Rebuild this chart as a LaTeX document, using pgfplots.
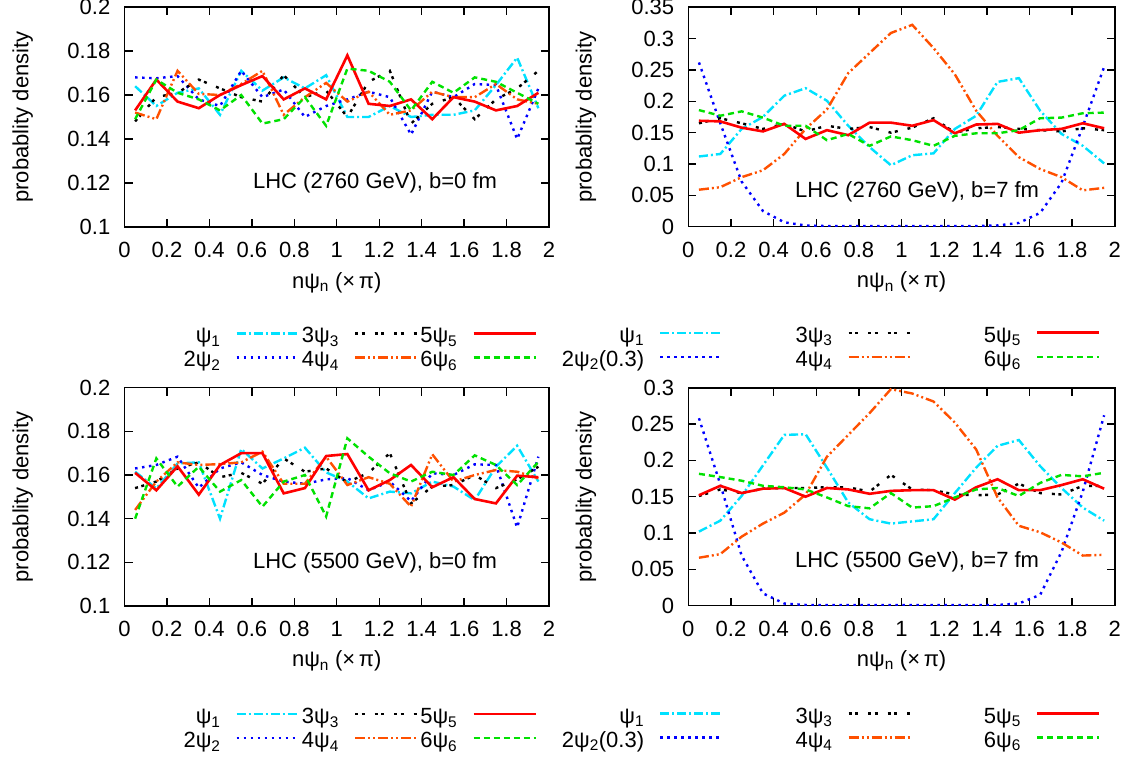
\documentclass[border=0pt]{standalone}
\usepackage{fontspec}
\setmainfont{Liberation Sans}
\usepackage{pgfplots}
\usepackage{pgfplotstable}
\pgfplotsset{compat=1.18}
\newcommand{\fs}{\fontsize{22}{26}\selectfont}
\definecolor{cy}{RGB}{0,225,255}
\definecolor{bl}{RGB}{0,0,255}
\definecolor{org}{RGB}{255,80,0}
\definecolor{rd}{RGB}{255,0,0}
\definecolor{gr}{RGB}{0,225,0}

\pgfplotstableread{
x p1 p2 p3 p4 p5 p6
0.05 0.164 0.168 0.148 0.152 0.153 0.149
0.15 0.155 0.1676 0.159 0.149 0.167 0.167
0.25 0.161 0.1686 0.161 0.171 0.157 0.161
0.35 0.163 0.158 0.167 0.1605 0.154 0.158
0.45 0.151 0.155 0.163 0.160 0.160 0.153
0.55 0.171 0.171 0.159 0.165 0.1645 0.160
0.65 0.162 0.159 0.157 0.171 0.1686 0.147
0.75 0.168 0.1625 0.169 0.151 0.158 0.149
0.85 0.163 0.150 0.159 0.159 0.163 0.159
0.95 0.169 0.155 0.162 0.1655 0.158 0.146
1.05 0.150 0.158 0.150 0.157 0.178 0.172
1.15 0.150 0.1615 0.166 0.1615 0.156 0.171
1.25 0.155 0.159 0.171 0.151 0.155 0.166
1.35 0.150 0.142 0.147 0.153 0.158 0.153
1.45 0.151 0.1615 0.156 0.1615 0.149 0.166
1.55 0.151 0.159 0.159 0.159 0.159 0.161
1.65 0.153 0.165 0.149 0.159 0.157 0.168
1.75 0.1645 0.1645 0.158 0.165 0.153 0.166
1.85 0.177 0.140 0.163 0.158 0.155 0.161
1.95 0.154 0.163 0.171 0.156 0.161 0.156
}\tl

\pgfplotstableread{
x p1 p2 p3 p4 p5 p6
0.05 0.112 0.262 0.165 0.059 0.169 0.186
0.15 0.116 0.165 0.173 0.063 0.168 0.177
0.25 0.156 0.072 0.165 0.079 0.158 0.184
0.35 0.175 0.025 0.156 0.090 0.152 0.174
0.45 0.209 0.007 0.164 0.116 0.164 0.161
0.55 0.221 0.002 0.152 0.156 0.140 0.161
0.65 0.201 0.001 0.161 0.187 0.154 0.138
0.75 0.161 0.001 0.156 0.245 0.146 0.148
0.85 0.127 0.001 0.159 0.277 0.166 0.129
0.95 0.098 0.001 0.150 0.309 0.166 0.144
1.05 0.114 0.001 0.158 0.322 0.161 0.138
1.15 0.117 0.001 0.173 0.285 0.170 0.129
1.25 0.156 0.001 0.150 0.243 0.149 0.145
1.35 0.177 0.001 0.157 0.185 0.163 0.149
1.45 0.231 0.002 0.159 0.145 0.164 0.149
1.55 0.237 0.006 0.156 0.111 0.150 0.154
1.65 0.185 0.022 0.154 0.092 0.154 0.173
1.75 0.148 0.070 0.152 0.079 0.156 0.174
1.85 0.129 0.160 0.157 0.058 0.165 0.181
1.95 0.101 0.255 0.154 0.062 0.157 0.182
}\tr

\pgfplotstableread{
x p1 p2 p3 p4 p5 p6
0.05 0.1615 0.163 0.154 0.144 0.161 0.140
0.15 0.1539 0.1646 0.157 0.157 0.153 0.1676
0.25 0.1653 0.1684 0.163 0.1658 0.164 0.1547
0.35 0.1658 0.1542 0.1658 0.1646 0.151 0.1638
0.45 0.140 0.163 0.159 0.165 0.1646 0.1524
0.55 0.1719 0.1658 0.161 0.1658 0.170 0.1577
0.65 0.163 0.160 0.156 0.1707 0.170 0.1455
0.75 0.1676 0.157 0.1676 0.156 0.1516 0.157
0.85 0.1725 0.156 0.1615 0.156 0.154 0.160
0.95 0.1612 0.158 0.163 0.1684 0.1687 0.141
1.05 0.157 0.1586 0.1567 0.1554 0.1696 0.1768
1.15 0.1493 0.153 0.161 0.159 0.153 0.1684
1.25 0.1524 0.157 0.170 0.156 0.1577 0.1608
1.35 0.1516 0.148 0.147 0.1455 0.1646 0.157
1.45 0.157 0.1608 0.1547 0.1695 0.1544 0.1615
1.55 0.1547 0.160 0.1554 0.157 0.159 0.160
1.65 0.1485 0.1649 0.160 0.160 0.149 0.169
1.75 0.1638 0.1646 0.154 0.1623 0.147 0.1646
1.85 0.1734 0.136 0.158 0.1615 0.1597 0.1554
1.95 0.157 0.1684 0.1638 0.1585 0.159 0.166
}\bl

\pgfplotstableread{
x p1 p2 p3 p4 p5 p6
0.05 0.102 0.258 0.151 0.066 0.152 0.1815
0.15 0.117 0.167 0.160 0.071 0.165 0.177
0.25 0.151 0.069 0.155 0.095 0.155 0.172
0.35 0.193 0.017 0.161 0.113 0.161 0.165
0.45 0.235 0.003 0.162 0.128 0.162 0.163
0.55 0.236 0.001 0.162 0.153 0.150 0.160
0.65 0.190 0.001 0.163 0.205 0.162 0.149
0.75 0.142 0.001 0.163 0.235 0.160 0.137
0.85 0.119 0.001 0.157 0.265 0.154 0.134
0.95 0.113 0.001 0.180 0.298 0.158 0.155
1.05 0.116 0.001 0.160 0.292 0.159 0.135
1.15 0.119 0.001 0.159 0.281 0.159 0.137
1.25 0.155 0.001 0.153 0.252 0.146 0.149
1.35 0.190 0.001 0.152 0.215 0.163 0.160
1.45 0.220 0.001 0.153 0.149 0.174 0.162
1.55 0.228 0.003 0.168 0.110 0.159 0.151
1.65 0.192 0.015 0.155 0.101 0.159 0.169
1.75 0.162 0.074 0.153 0.087 0.166 0.180
1.85 0.135 0.157 0.165 0.069 0.174 0.178
1.95 0.117 0.262 0.165 0.070 0.161 0.183
}\br

\pgfplotsset{
  s1/.style={color=cy, line width=2.4pt, dash pattern=on 9pt off 3pt on 2pt off 3pt},
  s2/.style={color=bl, line width=2.4pt, dash pattern=on 2.5pt off 4.5pt},
  s3/.style={color=black, line width=2.4pt, dash pattern=on 3pt off 3.5pt on 3pt off 10pt},
  s4/.style={color=org, line width=2.4pt, dash pattern=on 10pt off 3pt on 2pt off 3pt on 2pt off 3pt},
  s5/.style={color=rd, line width=2.6pt},
  s6/.style={color=gr, line width=2.4pt, dash pattern=on 6pt off 4pt},
  panel/.style={
    scale only axis, anchor=south west,
    xmin=0, xmax=2,
    xtick={0,0.2,0.4,0.6,0.8,1,1.2,1.4,1.6,1.8,2},
    tick align=inside, major tick length=8pt,
    axis line style={line width=1.6pt},
    every tick/.style={black, line width=1.4pt},
    scaled ticks=false,
    tick label style={font=\fs},
    label style={font=\fs},
    /pgf/number format/assume math mode=true,
    xticklabel style={inner sep=0pt, yshift=-15pt, /pgf/number format/fixed, /pgf/number format/precision=2},
    yticklabel style={inner sep=0pt, xshift=-14pt, /pgf/number format/fixed, /pgf/number format/precision=2},
    xlabel={nψ\textsubscript{n} (×\,π)},
    ylabel={probablity density},
    x label style={at={(axis description cs:0.5,-0.253)}, anchor=center},
    y label style={at={(axis description cs:-0.24,0.5)}, anchor=center},
    legend columns=3, legend plot pos=right, legend cell align=right,
    legend image code/.code={\draw[##1] (0pt,5pt) -- (62pt,5pt);},
    legend style={draw=none, fill=none, inner sep=0pt, font=\fs, row sep=3pt,
      nodes={inner sep=0pt, text height=15pt, text depth=6pt}},
  },
  legL/.style={legend style={at={(axis description cs:0.972,#1)}, anchor=east,
    /tikz/every odd column/.append style={column sep=15pt},
    /tikz/every even column/.append style={column sep=2pt}}},
  legR/.style={legend style={at={(axis description cs:0.967,#1)}, anchor=east,
    /tikz/every odd column/.append style={column sep=15pt},
    /tikz/every even column/.append style={column sep=72pt}}},
}

\begin{document}
\begin{tikzpicture}
\path[use as bounding box] (0,0) rectangle (1133pt,763pt);

% top left
\begin{axis}[panel, at={(124.5pt,536pt)}, width=424.5pt, height=220pt,
  ymin=0.1, ymax=0.2, ytick={0.1,0.12,0.14,0.16,0.18,0.2}, legL=-0.561]
\addplot[s1, forget plot] table[x=x,y=p1]{\tl};
\addplot[s2, forget plot] table[x=x,y=p2]{\tl};
\addplot[s3, forget plot] table[x=x,y=p3]{\tl};
\addplot[s4, forget plot] table[x=x,y=p4]{\tl};
\addplot[s5, forget plot] table[x=x,y=p5]{\tl};
\addplot[s6, forget plot] table[x=x,y=p6]{\tl};
\addlegendimage{s1}\addlegendentry{ψ\textsubscript{1}}
\addlegendimage{s3}\addlegendentry{3ψ\textsubscript{3}}
\addlegendimage{s5}\addlegendentry{5ψ\textsubscript{5}}
\addlegendimage{s2}\addlegendentry{2ψ\textsubscript{2}}
\addlegendimage{s4}\addlegendentry{4ψ\textsubscript{4}}
\addlegendimage{s6}\addlegendentry{6ψ\textsubscript{6}}
\node[anchor=west, inner sep=0pt, font=\fs] at (axis cs:0.605,0.12) {LHC (2760 GeV), b=0 fm};
\end{axis}

% top right
\begin{axis}[panel, at={(688.3pt,536.3pt)}, width=426.5pt, height=219.4pt,
  ymin=0, ymax=0.35, ytick={0,0.05,0.1,0.15,0.2,0.25,0.3,0.35}, legR=-0.561]
\addplot[s1, forget plot] table[x=x,y=p1]{\tr};
\addplot[s2, forget plot] table[x=x,y=p2]{\tr};
\addplot[s3, forget plot] table[x=x,y=p3]{\tr};
\addplot[s4, forget plot] table[x=x,y=p4]{\tr};
\addplot[s5, forget plot] table[x=x,y=p5]{\tr};
\addplot[s6, forget plot] table[x=x,y=p6]{\tr};
\addlegendimage{s1}\addlegendentry{ψ\textsubscript{1}}
\addlegendimage{s3}\addlegendentry{3ψ\textsubscript{3}}
\addlegendimage{s5}\addlegendentry{5ψ\textsubscript{5}}
\addlegendimage{s2}\addlegendentry{2ψ\textsubscript{2}(0.3)}
\addlegendimage{s4}\addlegendentry{4ψ\textsubscript{4}}
\addlegendimage{s6}\addlegendentry{6ψ\textsubscript{6}}
\node[anchor=west, inner sep=0pt, font=\fs] at (axis cs:0.5,0.055) {LHC (2760 GeV), b=7 fm};
\end{axis}

% bottom left
\begin{axis}[panel, at={(124.5pt,157pt)}, width=424.5pt, height=218.3pt,
  ymin=0.1, ymax=0.2, ytick={0.1,0.12,0.14,0.16,0.18,0.2}, legL=-0.573]
\addplot[s1, forget plot] table[x=x,y=p1]{\bl};
\addplot[s2, forget plot] table[x=x,y=p2]{\bl};
\addplot[s3, forget plot] table[x=x,y=p3]{\bl};
\addplot[s4, forget plot] table[x=x,y=p4]{\bl};
\addplot[s5, forget plot] table[x=x,y=p5]{\bl};
\addplot[s6, forget plot] table[x=x,y=p6]{\bl};
\addlegendimage{s1}\addlegendentry{ψ\textsubscript{1}}
\addlegendimage{s3}\addlegendentry{3ψ\textsubscript{3}}
\addlegendimage{s5}\addlegendentry{5ψ\textsubscript{5}}
\addlegendimage{s2}\addlegendentry{2ψ\textsubscript{2}}
\addlegendimage{s4}\addlegendentry{4ψ\textsubscript{4}}
\addlegendimage{s6}\addlegendentry{6ψ\textsubscript{6}}
\node[anchor=west, inner sep=0pt, font=\fs] at (axis cs:0.605,0.12) {LHC (5500 GeV), b=0 fm};
\end{axis}

% bottom right
\begin{axis}[panel, at={(688.3pt,157.3pt)}, width=426.5pt, height=218pt,
  ymin=0, ymax=0.3, ytick={0,0.05,0.1,0.15,0.2,0.25,0.3}, legR=-0.573]
\addplot[s1, forget plot] table[x=x,y=p1]{\br};
\addplot[s2, forget plot] table[x=x,y=p2]{\br};
\addplot[s3, forget plot] table[x=x,y=p3]{\br};
\addplot[s4, forget plot] table[x=x,y=p4]{\br};
\addplot[s5, forget plot] table[x=x,y=p5]{\br};
\addplot[s6, forget plot] table[x=x,y=p6]{\br};
\addlegendimage{s1}\addlegendentry{ψ\textsubscript{1}}
\addlegendimage{s3}\addlegendentry{3ψ\textsubscript{3}}
\addlegendimage{s5}\addlegendentry{5ψ\textsubscript{5}}
\addlegendimage{s2}\addlegendentry{2ψ\textsubscript{2}(0.3)}
\addlegendimage{s4}\addlegendentry{4ψ\textsubscript{4}}
\addlegendimage{s6}\addlegendentry{6ψ\textsubscript{6}}
\node[anchor=west, inner sep=0pt, font=\fs] at (axis cs:0.5,0.06) {LHC (5500 GeV), b=7 fm};
\end{axis}
\end{tikzpicture}
\end{document}
